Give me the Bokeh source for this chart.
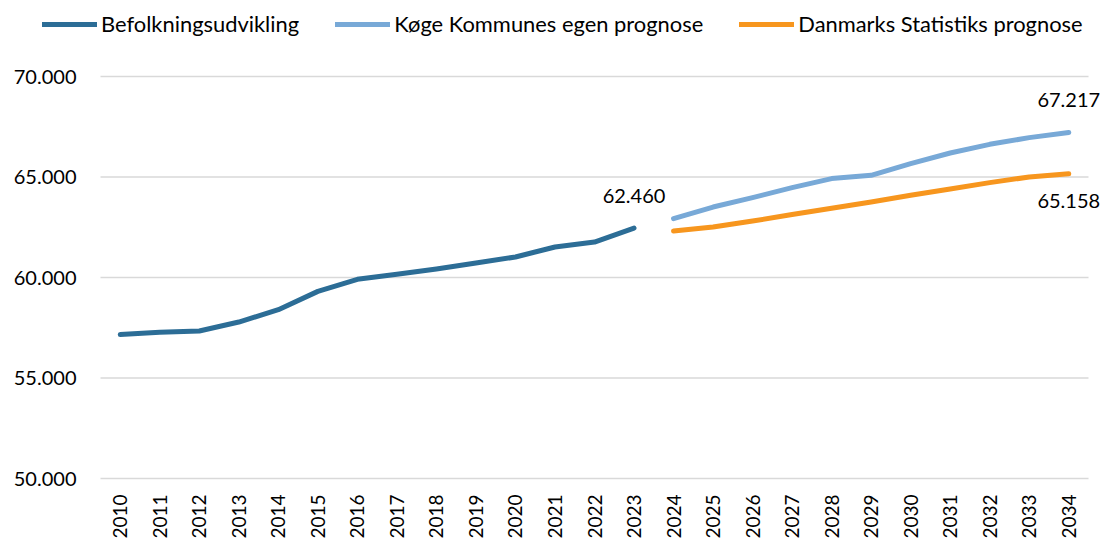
from bokeh.plotting import figure
from bokeh.models import Range1d, FixedTicker, Legend, LegendItem, ColumnDataSource, LabelSet
from bokeh.core.properties import value
from bokeh.embed import file_html
from bokeh.resources import INLINE

years_hist = [2010, 2011, 2012, 2013, 2014, 2015, 2016, 2017, 2018, 2019, 2020, 2021, 2022, 2023]
befolkning = [57160, 57275, 57340, 57785, 58400, 59310, 59910, 60160, 60420, 60720, 61020, 61515, 61765, 62460]

years_prog = [2024, 2025, 2026, 2027, 2028, 2029, 2030, 2031, 2032, 2033, 2034]
koege_prognose = [62930, 63505, 63975, 64470, 64920, 65085, 65665, 66195, 66625, 66960, 67217]
dst_prognose = [62315, 62510, 62810, 63130, 63445, 63755, 64090, 64405, 64720, 65000, 65158]

series_names = ["Befolkningsudvikling", "Køge Kommunes egen prognose", "Danmarks Statistiks prognose"]
colors = ["#2c6d96", "#78a9d7", "#f7961e"]
y_ticks = [50000, 55000, 60000, 65000, 70000]
x_ticks = list(range(2010, 2035))

FONT = "Lato"

# layout in pixels: the plotting frame fills the canvas above the year labels, so the legend,
# the y labels and the value labels at the right edge all sit inside it;
# the category area runs from x=100 to x=1088, the 70.000 / 50.000 gridlines at y=76 / y=478
W, H, BOTTOM = 1102, 542, 52
CAT_LEFT, CAT_RIGHT = 100, 1088
Y_TOP_PX, Y_BOTTOM_PX = 76, 478
frame_h = H - BOTTOM
px_per_year = (CAT_RIGHT - CAT_LEFT) / len(x_ticks)
x_start = x_ticks[0] - 0.5 - CAT_LEFT / px_per_year
x_end = x_ticks[-1] + 0.5 + (W - CAT_RIGHT) / px_per_year
px_per_unit = (Y_BOTTOM_PX - Y_TOP_PX) / (y_ticks[-1] - y_ticks[0])
y_start = y_ticks[0] - (frame_h - Y_BOTTOM_PX) / px_per_unit
y_end = y_ticks[-1] + Y_TOP_PX / px_per_unit


def fmt(v):
    return f"{int(round(v)):,}".replace(",", ".")


line_kw = dict(line_width=5, line_cap="round", line_join="round")

p = figure(width=W, height=H, output_backend="svg", toolbar_location=None,
           x_range=Range1d(x_start, x_end), y_range=Range1d(y_start, y_end), y_axis_type=None,
           min_border_left=0, min_border_right=0, min_border_top=0, min_border_bottom=BOTTOM)
p.outline_line_color = None
p.background_fill_color = "white"
p.border_fill_color = "white"

# horizontal gridlines over the category area
n = len(y_ticks)
p.segment(x0=[x_ticks[0] - 0.5] * n, x1=[x_ticks[-1] + 0.5] * n, y0=y_ticks, y1=y_ticks,
          line_color="#d9d9d9", line_width=1.5)

# y tick labels
ysrc = ColumnDataSource(dict(x=[x_ticks[0] - 0.5] * n, y=y_ticks, t=[fmt(v) for v in y_ticks]))
p.add_layout(LabelSet(x="x", y="y", text="t", source=ysrc, text_align="right", text_baseline="middle",
                      x_offset=-24, text_font=value(FONT), text_font_size="20px", text_color="#000000"))

r1 = p.line(years_hist, befolkning, line_color=colors[0], **line_kw)
r2 = p.line(years_prog, koege_prognose, line_color=colors[1], **line_kw)
r3 = p.line(years_prog, dst_prognose, line_color=colors[2], **line_kw)

# data labels
above = ColumnDataSource(dict(x=[years_hist[-1], years_prog[-1]],
                              y=[befolkning[-1], koege_prognose[-1]],
                              t=[fmt(befolkning[-1]), fmt(koege_prognose[-1])]))
p.add_layout(LabelSet(x="x", y="y", text="t", source=above, text_align="center", text_baseline="alphabetic",
                      y_offset=25, text_font=value(FONT), text_font_size="20px", text_color="#000000"))
below = ColumnDataSource(dict(x=[years_prog[-1]], y=[dst_prognose[-1]], t=[fmt(dst_prognose[-1])]))
p.add_layout(LabelSet(x="x", y="y", text="t", source=below, text_align="center", text_baseline="alphabetic",
                      y_offset=-34, text_font=value(FONT), text_font_size="20px", text_color="#000000"))

# x axis (years, vertical)
p.xaxis.ticker = FixedTicker(ticks=x_ticks)
p.xaxis.major_label_orientation = 1.5707963
p.xaxis.major_label_text_font = FONT
p.xaxis.major_label_text_font_size = "19px"
p.xaxis.major_label_text_color = "#000000"
p.xaxis.major_label_standoff = 4
p.xaxis.axis_line_color = None
p.xaxis.major_tick_line_color = None
p.xaxis.minor_tick_line_color = None
p.xaxis.major_tick_out = 0
p.xaxis.major_tick_in = 0

p.xgrid.grid_line_color = None
p.ygrid.grid_line_color = None

legend = Legend(items=[LegendItem(label=series_names[0], renderers=[r1]),
                       LegendItem(label=series_names[1], renderers=[r2]),
                       LegendItem(label=series_names[2], renderers=[r3])],
                orientation="horizontal", location=(42, frame_h - 37),
                glyph_width=55, glyph_height=20, label_standoff=4, spacing=36,
                padding=0, margin=0, border_line_color=None, background_fill_alpha=0,
                label_text_font=FONT, label_text_font_size="21.9px", label_text_color="#000000")
p.add_layout(legend, "center")

open("out.html", "w").write(file_html(p, INLINE))
